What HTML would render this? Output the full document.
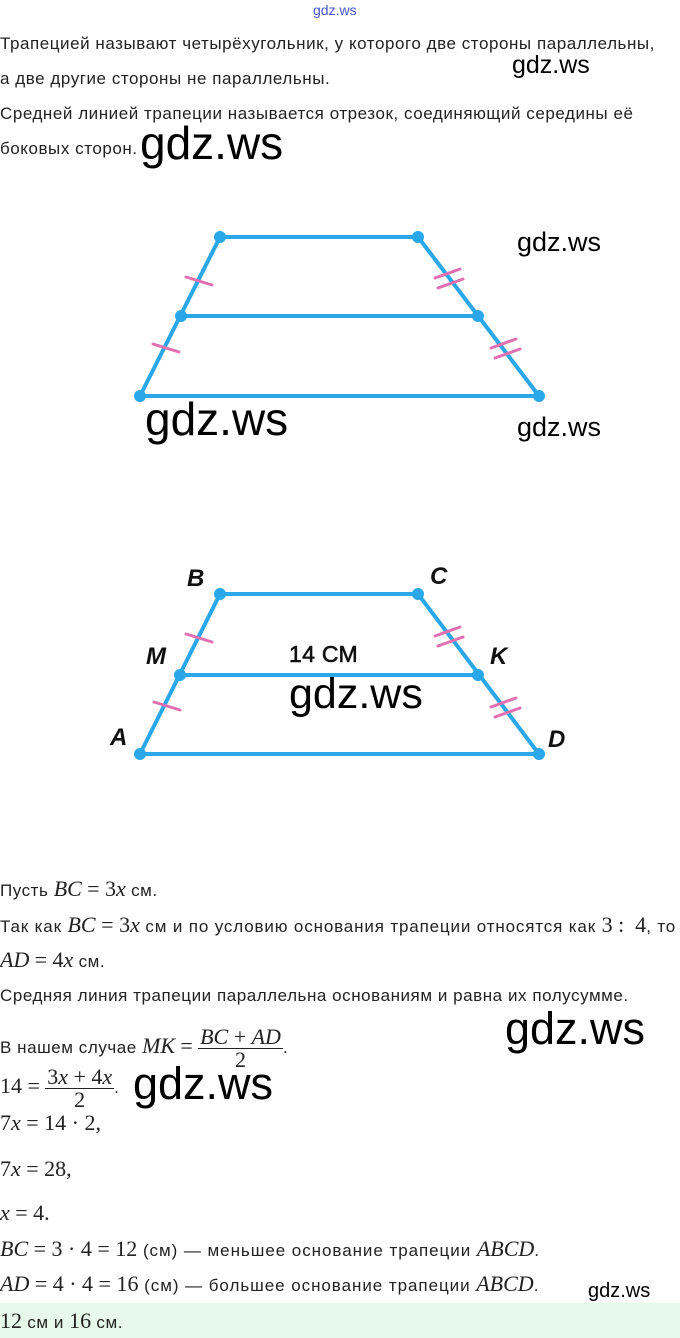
<!DOCTYPE html>
<html><head><meta charset="utf-8"><style>
body{margin:0;width:680px;height:1338px;background:#fff;position:relative;overflow:hidden;font-family:"Liberation Sans",sans-serif;color:#222}
.t{position:absolute;left:0;font-size:17px;letter-spacing:0.55px;line-height:20px;white-space:nowrap}
.m{font-family:"Liberation Serif",serif;font-style:italic;font-size:22px;letter-spacing:0}
.n{font-family:"Liberation Serif",serif;font-size:22px;letter-spacing:0}
.w{position:absolute;font-family:"Liberation Sans",sans-serif;color:#000;line-height:1;white-space:nowrap}
.fr{display:inline-block;vertical-align:middle;text-align:center;font-family:"Liberation Serif",serif;font-size:22px;line-height:22px;letter-spacing:0}
.fr span{display:block}
.fr .num{border-bottom:1px solid #222;padding:0 2px}
</style></head><body>
<div class="w" style="left:313px;top:3px;font-size:14px;color:#4455cc">gdz.ws</div>
<div class="t" style="top:34px">Трапецией называют четырёхугольник, у которого две стороны параллельны,</div>
<div class="t" style="top:69px">а две другие стороны не параллельны.</div>
<div class="t" style="top:104px">Средней линией трапеции называется отрезок, соединяющий середины её</div>
<div class="t" style="top:139px">боковых сторон.</div>
<div class="w" style="left:512px;top:53px;font-size:25px">gdz.ws</div>
<div class="w" style="left:140px;top:120px;font-size:46px">gdz.ws</div>
<div class="w" style="left:517px;top:229px;font-size:27px">gdz.ws</div>
<div class="w" style="left:145px;top:396px;font-size:46px">gdz.ws</div>
<div class="w" style="left:517px;top:414px;font-size:27px">gdz.ws</div>

<svg style="position:absolute;left:0;top:0" width="680" height="800">
<g stroke="#2aa7e8" stroke-width="4" fill="none" stroke-linecap="round">
<polyline points="220,237 418,237 539,396 140,396 220,237"/>
<line x1="181" y1="316" x2="478" y2="316"/>
<polyline points="220,594 418,594 539,754 140,754 220,594"/>
<line x1="180" y1="675" x2="478" y2="675"/>
</g>
<g fill="#2aa7e8">
<circle cx="220" cy="237" r="6"/><circle cx="418" cy="237" r="6"/><circle cx="181" cy="316" r="6"/><circle cx="478" cy="316" r="6"/><circle cx="140" cy="396" r="6"/><circle cx="539" cy="396" r="6"/>
<circle cx="220" cy="594" r="6"/><circle cx="418" cy="594" r="6"/><circle cx="180" cy="675" r="6"/><circle cx="478" cy="675" r="6"/><circle cx="140" cy="754" r="6"/><circle cx="539" cy="754" r="6"/>
</g>
<g stroke="#e070b0" stroke-width="3" stroke-linecap="round">
<line x1="186" y1="277" x2="212" y2="285"/>
<line x1="153" y1="344" x2="179" y2="352"/>
<line x1="435" y1="278" x2="460" y2="269"/><line x1="438" y1="288" x2="463" y2="279"/>
<line x1="491" y1="348" x2="516" y2="339"/><line x1="495" y1="358" x2="520" y2="349"/>
<line x1="186" y1="634" x2="212" y2="642"/>
<line x1="154" y1="702" x2="180" y2="710"/>
<line x1="435" y1="636" x2="460" y2="627"/><line x1="438" y1="646" x2="463" y2="637"/>
<line x1="491" y1="707" x2="516" y2="698"/><line x1="495" y1="717" x2="520" y2="708"/>
</g>
<g font-family="Liberation Sans,sans-serif" font-style="italic" font-weight="bold" font-size="24" fill="#111">
<text x="187" y="586">B</text><text x="430" y="584">C</text>
<text x="146" y="664">M</text><text x="490" y="664">K</text>
<text x="110" y="745">A</text><text x="548" y="747">D</text>
</g>
<text x="289" y="662" font-family="Liberation Sans,sans-serif" font-size="23" letter-spacing="0.3" fill="#111" stroke="#111" stroke-width="0.6">14 СМ</text>
</svg>
<div class="w" style="left:289px;top:673px;font-size:43px">gdz.ws</div>

<div class="t" style="top:879px">Пусть <span class="m">BC</span> <span class="n">= 3</span><span class="m">x</span> см.</div>
<div class="t" style="top:915px;letter-spacing:0.85px">Так как <span class="m">BC</span> <span class="n">= 3</span><span class="m">x</span> см и по условию основания трапеции относятся как <span class="n">3 :&nbsp; 4</span>, то</div>
<div class="t" style="top:950px"><span class="m">AD</span> <span class="n">= 4</span><span class="m">x</span> см.</div>
<div class="t" style="top:986px">Средняя линия трапеции параллельна основаниям и равна их полусумме.</div>
<div class="t" style="top:1024px;line-height:44px">В нашем случае <span class="m">MK</span> <span class="n">=</span> <span class="fr"><span class="num"><i>BC</i> + <i>AD</i></span><span>2</span></span>.</div>
<div class="t" style="top:1064px;line-height:44px"><span class="n">14 =</span> <span class="fr"><span class="num">3<i>x</i> + 4<i>x</i></span><span>2</span></span>.</div>
<div class="w" style="left:505px;top:1006px;font-size:45px">gdz.ws</div>
<div class="w" style="left:133px;top:1061px;font-size:45px">gdz.ws</div>
<div class="t" style="top:1113px"><span class="n">7<i>x</i> = 14 · 2,</span></div>
<div class="t" style="top:1159px"><span class="n">7<i>x</i> = 28,</span></div>
<div class="t" style="top:1203px"><span class="n"><i>x</i> = 4.</span></div>
<div class="t" style="top:1239px;letter-spacing:0.95px"><span class="n"><i>BC</i> = 3 · 4 = 12</span> (см) — меньшее основание трапеции <span class="m">ABCD</span>.</div>
<div class="t" style="top:1274px;letter-spacing:0.95px"><span class="n"><i>AD</i> = 4 · 4 = 16</span> (см) — большее основание трапеции <span class="m">ABCD</span>.</div>
<div class="w" style="left:588px;top:1281px;font-size:20px">gdz.ws</div>
<div style="position:absolute;left:0;top:1303px;width:680px;height:35px;background:#e6f9ea"></div>
<div class="t" style="top:1311px"><span class="n">12</span> см и <span class="n">16</span> см.</div>
</body></html>
